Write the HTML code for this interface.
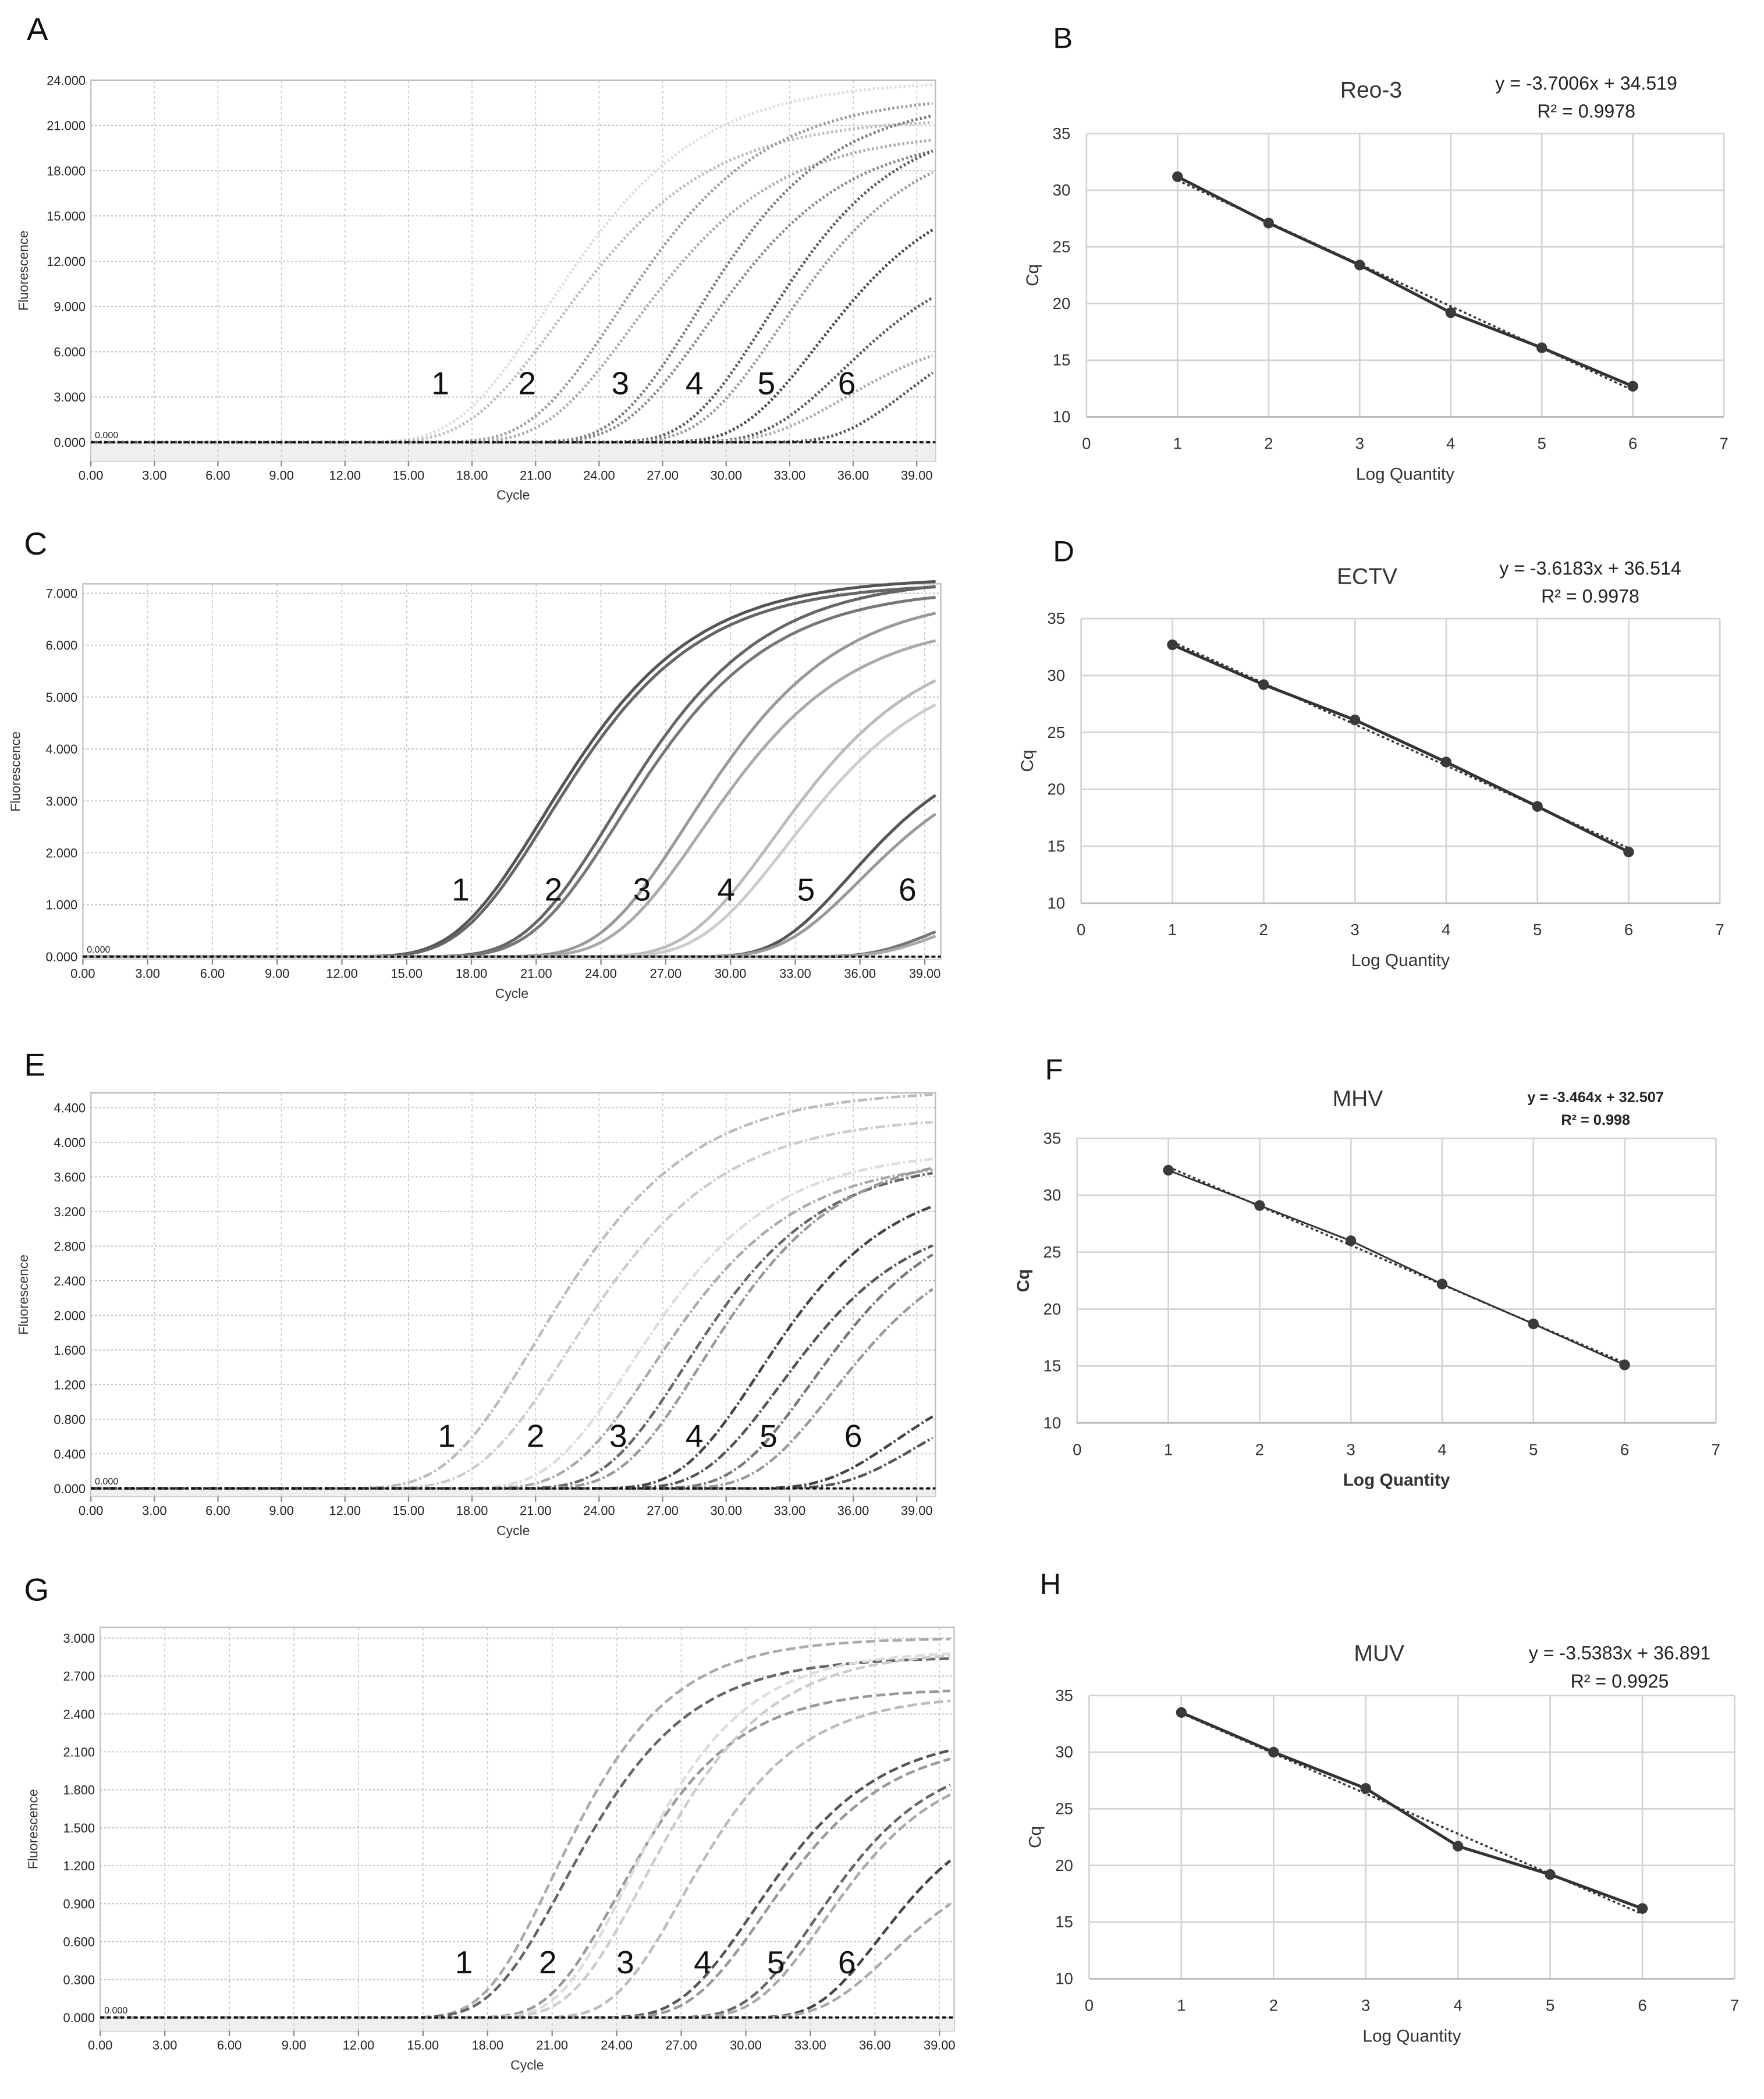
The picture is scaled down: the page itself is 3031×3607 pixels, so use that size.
<!DOCTYPE html>
<html><head><meta charset="utf-8">
<style>
html,body{margin:0;padding:0;background:#fff;}
svg{display:block;}
text{font-family:"Liberation Sans",sans-serif;}
</style></head>
<body>
<svg id="fig" width="3031" height="3607" viewBox="0 0 1320 1571" preserveAspectRatio="none" xmlns="http://www.w3.org/2000/svg"></svg>
<script>
// ---------- Amplification data (per curve: inflection cycle, plateau, steepness, gray) ----------
const ampAMid=[21.5,22.0,24.8,25.5,28.5,29.0,31.8,32.5,34.3,35.5,35.5,38.5];
const ampAPlat=[24.0,21.5,23.0,20.6,22.7,20.5,21.5,20.6,17.5,13.0,7.8,9.0];
const ampAK=[0.24,0.24,0.25,0.25,0.27,0.26,0.28,0.27,0.28,0.28,0.28,0.32];
const ampAGray=['#ddd','#bbb','#999','#aaa','#777','#888','#555','#999','#444','#555','#aaa','#555'];
const ampALabels=['1','2','3','4','5','6'];
const ampALabelX=[16.5,20.6,25.0,28.5,31.9,35.7];

const ampCMid=[21.3,21.5,24.5,24.8,28.0,28.6,32.0,32.6,35.5,36.0,39.5,39.8];
const ampCPlat=[7.3,7.2,7.3,7.1,7.0,6.5,6.2,5.8,4.2,4.0,1.3,1.2];
const ampCK=[0.25,0.25,0.25,0.25,0.25,0.25,0.25,0.25,0.3,0.28,0.35,0.35];
const ampCGray=['#555','#666','#666','#777','#999','#aaa','#bbb','#ccc','#555','#999','#777','#aaa'];
const ampCLabels=['1','2','3','4','5','6'];
const ampCLabelX=[17.5,21.8,25.9,29.8,33.5,38.2];

const ampEMid=[21.0,22.5,25.5,26.5,28.0,28.8,31.5,32.5,34.0,35.0,38.0,39.0];
const ampEPlat=[4.6,4.3,3.9,3.8,3.8,3.9,3.6,3.2,3.3,3.0,1.5,1.3];
const ampEK=[0.24,0.24,0.26,0.26,0.27,0.27,0.28,0.28,0.28,0.28,0.3,0.3];
const ampEGray=['#bbb','#ccc','#ddd','#aaa','#666','#999','#444','#555','#777','#999','#444','#555'];
const ampELabels=['1','2','3','4','5','6'];
const ampELabelX=[16.8,21.0,24.9,28.5,32.0,36.0];

const ampGMid=[21.0,21.5,24.0,24.5,25.2,27.0,30.3,30.8,33.2,33.6,36.2,36.7];
const ampGPlat=[3.0,2.85,2.6,2.9,2.9,2.55,2.25,2.2,2.1,2.05,1.7,1.35];
const ampGK=[0.32,0.3,0.32,0.32,0.3,0.32,0.3,0.3,0.32,0.32,0.35,0.32];
const ampGGray=['#aaa','#666','#999','#ddd','#ccc','#bbb','#555','#999','#666','#aaa','#444','#aaa'];
const ampGLabels=['1','2','3','4','5','6'];
const ampGLabelX=[16.9,20.8,24.4,28.0,31.4,34.7];

const cycleTicks=['0.00','3.00','6.00','9.00','12.00','15.00','18.00','21.00','24.00','27.00','30.00','33.00','36.00','39.00'];

// ---------- Standard curve data ----------
const stdX=[1,2,3,4,5,6];
const stdXTicks=['0','1','2','3','4','5','6','7'];
const stdYTicks=['10','15','20','25','30','35'];
const stdBCq=[31.2,27.1,23.4,19.2,16.1,12.7];
const stdDCq=[32.7,29.2,26.1,22.4,18.5,14.5];
const stdFCq=[32.2,29.1,26.0,22.2,18.7,15.1];
const stdHCq=[33.5,30.0,26.8,21.7,19.2,16.2];

const NS='http://www.w3.org/2000/svg';
const svg=document.getElementById('fig');
function el(tag,attrs,parent,txt){
  const e=document.createElementNS(NS,tag);
  for(const k in attrs)e.setAttribute(k,attrs[k]);
  if(txt!==undefined)e.textContent=txt;
  (parent||svg).appendChild(e);return e;
}

function amp(p){
  const g=el('g',{});
  
  
  const xs=c=>p.x0+(c/39)*(p.x39-p.x0);
  const ys=v=>p.yZero-(v/p.ymax)*(p.yZero-p.yTop);
  el('rect',{x:p.L,y:p.T,width:p.R-p.L,height:p.B-p.T,fill:'#fff',stroke:'#bbb','stroke-width':1},g);
  el('rect',{x:p.L,y:p.yZero,width:p.R-p.L,height:p.B-p.yZero,fill:'#efefef'},g);
  for(let i=0;i<cycleTicks.length;i++){
    const x=xs(i*3);
    const gl=el('line',{x1:x,y1:p.T,x2:x,y2:p.B,stroke:'#ccc','stroke-width':0.8,'stroke-dasharray':'2,2'},g);
    
    
    const t=el('text',{x:x,y:p.B+14,'font-size':9.5,'text-anchor':'middle',fill:'#222'},g,cycleTicks[i]);
    
    
    el('line',{x1:x,y1:p.B,x2:x,y2:p.B+4,stroke:'#888'},g);
  }
  for(let i=0;i<p.yticks.length;i++){
    const y=ys(i*p.ystep);
    el('line',{x1:p.L,y1:y,x2:p.R,y2:y,stroke:'#bbb','stroke-width':0.8,'stroke-dasharray':'1.5,1.5'},g);
    const t=el('text',{x:p.L-4,y:y+3.5,'font-size':9.5,'text-anchor':'end',fill:'#222'},g,p.yticks[i]);
    
    
  }
  for(let c=0;c<p.mid.length;c++){
    let d='';
    for(let cyc=0;cyc<=40;cyc+=0.25){
      const v=p.plat[c]*Math.exp(-Math.exp(-p.k[c]*(cyc-p.mid[c])));
      const x=xs(cyc);if(x>p.R)break;
      d+=(d?'L':'M')+x.toFixed(1)+','+ys(Math.max(v,0)).toFixed(1);
    }
    const pa=el('path',{d:d,fill:'none',stroke:p.gray[c],'stroke-width':p.sw,'stroke-dasharray':p.dash},g);
    
    
  }
  const th=el('line',{x1:p.L,y1:p.yZero,x2:p.R,y2:p.yZero,stroke:'#111','stroke-width':1.6,'stroke-dasharray':'3,2'},g);
  
  
  el('text',{x:p.L+3,y:p.yZero-3,'font-size':7,fill:'#222'},g,'0.000');
  for(let i=0;i<p.labels.length;i++){
    const t=el('text',{x:xs(p.labelX[i]),y:p.labY,'font-size':24,'text-anchor':'middle',fill:'#111'},g,p.labels[i]);
    
    
  }
  const xt=el('text',{x:(p.L+p.R)/2,y:p.B+29,'font-size':10,'text-anchor':'middle',fill:'#333'},g,'Cycle');
  
  
  const yt=el('text',{x:0,y:0,'font-size':10,'text-anchor':'middle',fill:'#333',transform:`translate(${p.L-47},${(p.T+p.B)/2}) rotate(-90)`},g,'Fluorescence');
  
  
  const pl=el('text',{x:p.panX,y:p.panY,'font-size':24,fill:'#111'},g,p.panel);
  
  
}

function std(p){
  const g=el('g',{});
  
  
  const xs=v=>p.L+(v/7)*(p.R-p.L);
  const ys=v=>p.B-((v-10)/25)*(p.B-p.T);
  for(let i=0;i<stdYTicks.length;i++){
    const y=ys(+stdYTicks[i]);
    el('line',{x1:p.L,y1:y,x2:p.R,y2:y,stroke:'#d4d4d4','stroke-width':1.2},g);
    const t=el('text',{x:p.L-12,y:y+4,'font-size':12,'text-anchor':'end',fill:'#333'},g,stdYTicks[i]);
    
    
  }
  for(let i=0;i<stdXTicks.length;i++){
    const x=xs(+stdXTicks[i]);
    el('line',{x1:x,y1:p.T,x2:x,y2:p.B,stroke:'#d4d4d4','stroke-width':1.2},g);
    const t=el('text',{x:x,y:p.B+24,'font-size':12,'text-anchor':'middle',fill:'#333'},g,stdXTicks[i]);
    
    
  }
  el('line',{x1:p.L,y1:p.B,x2:p.R,y2:p.B,stroke:'#bbb','stroke-width':1.2},g);
  const n=stdX.length;let sx=0,sy=0,sxx=0,sxy=0;
  for(let i=0;i<n;i++){sx+=stdX[i];sy+=p.cq[i];sxx+=stdX[i]*stdX[i];sxy+=stdX[i]*p.cq[i];}
  const slope=(n*sxy-sx*sy)/(n*sxx-sx*sx), icpt=(sy-slope*sx)/n;
  const tl=el('line',{x1:xs(1),y1:ys(slope+icpt),x2:xs(6),y2:ys(6*slope+icpt),stroke:'#333','stroke-width':1.5,'stroke-dasharray':'2,2'},g);
  
  
  let d='';
  for(let i=0;i<n;i++)d+=(i?'L':'M')+xs(stdX[i])+','+ys(p.cq[i]);
  const ln=el('path',{d:d,fill:'none',stroke:'#333','stroke-width':p.lw},g);
  
  
  for(let i=0;i<n;i++){
    const c=el('circle',{cx:xs(stdX[i]),cy:ys(p.cq[i]),r:4,fill:'#3a3a3a'},g);
    
    
  }
  const tt=el('text',{x:p.titleX,y:p.titleY,'font-size':17,'text-anchor':'middle',fill:'#333'},g,p.title);
  
  
  const eq=el('text',{x:p.eqX,y:p.eqY,'font-size':p.eqFs,'text-anchor':'middle',fill:'#222',...(p.bold?{'font-weight':'bold'}:{})},g,p.eq);
  
  
  const r2=el('text',{x:p.eqX,y:p.eqY+p.eqGap,'font-size':p.eqFs,'text-anchor':'middle',fill:'#222',...(p.bold?{'font-weight':'bold'}:{})},g,p.r2);
  
  
  const xt=el('text',{x:(p.L+p.R)/2,y:p.B+47,'font-size':13,'text-anchor':'middle',fill:'#333',...(p.bold?{'font-weight':'bold'}:{})},g,'Log Quantity');
  
  
  const yt=el('text',{x:0,y:0,'font-size':13,'text-anchor':'middle',fill:'#333',...(p.bold?{'font-weight':'bold'}:{}),transform:`translate(${p.L-36},${(p.T+p.B)/2}) rotate(-90)`},g,'Cq');
  
  
  const pl=el('text',{x:p.panX,y:p.panY,'font-size':22,fill:'#111'},g,p.panel);
  
  
}

amp({name:'panel-a-amplification',panel:'A',panX:20,panY:30,L:68,R:700,T:60,B:345,x0:68,x39:686,yZero:331,yTop:60,ymax:24,ystep:3,
  yticks:['0.000','3.000','6.000','9.000','12.000','15.000','18.000','21.000','24.000'],
  mid:ampAMid,plat:ampAPlat,k:ampAK,gray:ampAGray,labels:ampALabels,labelX:ampALabelX,labY:295,sw:2.2,dash:'1.5,1.8'});
amp({name:'panel-c-amplification',panel:'C',panX:18,panY:415,L:62,R:704,T:437,B:718,x0:62,x39:692,yZero:716,yTop:444,ymax:7,ystep:1,
  yticks:['0.000','1.000','2.000','3.000','4.000','5.000','6.000','7.000'],
  mid:ampCMid,plat:ampCPlat,k:ampCK,gray:ampCGray,labels:ampCLabels,labelX:ampCLabelX,labY:674,sw:2.2,dash:'none'});
amp({name:'panel-e-amplification',panel:'E',panX:18,panY:805,L:68,R:700,T:818,B:1120,x0:68,x39:686,yZero:1114,yTop:829,ymax:4.4,ystep:0.4,
  yticks:['0.000','0.400','0.800','1.200','1.600','2.000','2.400','2.800','3.200','3.600','4.000','4.400'],
  mid:ampEMid,plat:ampEPlat,k:ampEK,gray:ampEGray,labels:ampELabels,labelX:ampELabelX,labY:1083,sw:2,dash:'7,2,1.5,2'});
amp({name:'panel-g-amplification',panel:'G',panX:18,panY:1198,L:75,R:714,T:1218,B:1520,x0:75,x39:703,yZero:1510,yTop:1226,ymax:3,ystep:0.3,
  yticks:['0.000','0.300','0.600','0.900','1.200','1.500','1.800','2.100','2.400','2.700','3.000'],
  mid:ampGMid,plat:ampGPlat,k:ampGK,gray:ampGGray,labels:ampGLabels,labelX:ampGLabelX,labY:1477,sw:2,dash:'7,3'});

std({name:'panel-b-standard-curve',panel:'B',panX:788,panY:36,L:813,R:1290,T:100,B:312,cq:stdBCq,lw:2.2,
  title:'Reo-3',titleX:1026,titleY:73,eq:'y = -3.7006x + 34.519',r2:'R² = 0.9978',eqX:1187,eqY:67,eqGap:21,eqFs:14});
std({name:'panel-d-standard-curve',panel:'D',panX:788,panY:420,L:809,R:1287,T:463,B:676,cq:stdDCq,lw:2.2,
  title:'ECTV',titleX:1023,titleY:437,eq:'y = -3.6183x + 36.514',r2:'R² = 0.9978',eqX:1190,eqY:430,eqGap:21,eqFs:14});
std({name:'panel-f-standard-curve',panel:'F',panX:782,panY:808,L:806,R:1284,T:852,B:1065,cq:stdFCq,lw:1.3,bold:true,
  title:'MHV',titleX:1016,titleY:828,eq:'y = -3.464x + 32.507',r2:'R² = 0.998',eqX:1194,eqY:825,eqGap:17,eqFs:11});
std({name:'panel-h-standard-curve',panel:'H',panX:778,panY:1193,L:815,R:1298,T:1269,B:1481,cq:stdHCq,lw:2.2,
  title:'MUV',titleX:1032,titleY:1243,eq:'y = -3.5383x + 36.891',r2:'R² = 0.9925',eqX:1212,eqY:1242,eqGap:21,eqFs:14});
</script>
</body></html>
